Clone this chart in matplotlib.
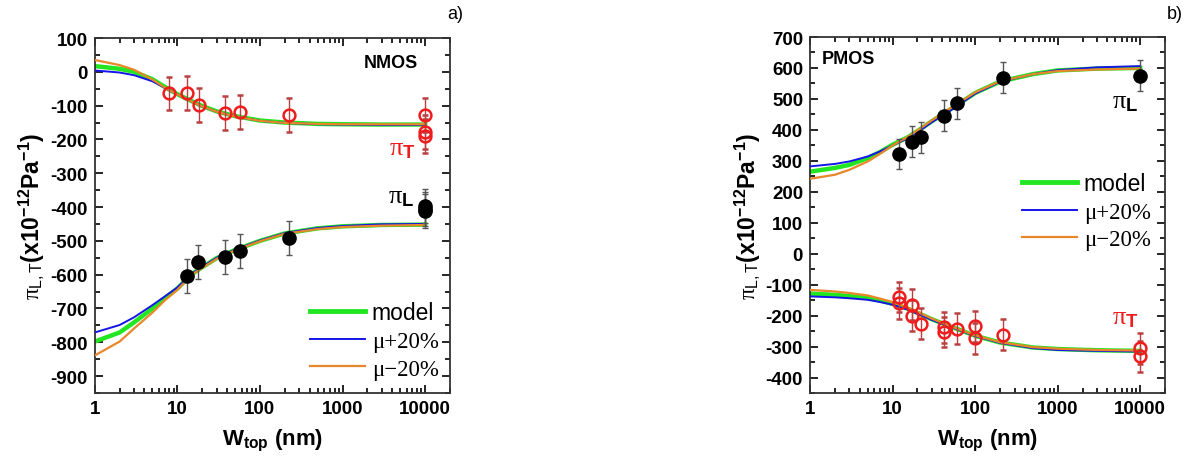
import matplotlib
matplotlib.use("Agg")
import matplotlib.pyplot as plt
from matplotlib.ticker import FixedLocator, FixedFormatter, MultipleLocator, LogLocator, NullFormatter

plt.rcParams['font.family'] = ['Liberation Sans', 'DejaVu Sans']
plt.rcParams['axes.unicode_minus'] = False
plt.rcParams['mathtext.fontset'] = 'custom'
plt.rcParams['mathtext.rm'] = 'Liberation Serif'
plt.rcParams['mathtext.it'] = 'Liberation Serif:italic'
plt.rcParams['mathtext.bf'] = 'Liberation Sans:bold'
plt.rcParams['mathtext.sf'] = 'Liberation Sans'

# ---------------- data ----------------
x_model = [1, 2, 3, 5, 7, 10, 15, 20, 30, 50, 100, 200, 500, 1000, 3000, 10000]

# NMOS
nmos_T_model = [17, 9, 0, -22, -44, -66, -87, -101, -117, -131, -144, -150, -154, -155, -156, -156]
nmos_T_plus = [4, -2, -10, -28, -47, -67, -88, -102, -118, -132, -145, -151, -155, -156, -157, -157]
nmos_T_minus = [35, 20, 6, -23, -46, -67, -88, -102, -118, -132, -145, -151, -154, -155, -155, -155]
nmos_L_model = [-798, -771, -741, -700, -670, -641, -598, -578, -551, -527, -500, -478, -463, -457, -453, -452]
nmos_L_plus = [-771, -749, -726, -690, -665, -638, -597, -577, -550, -526, -499, -477, -462, -456, -451, -450]
nmos_L_minus = [-839, -798, -759, -712, -677, -645, -600, -580, -553, -528, -501, -479, -465, -459, -455, -453]

nmos_T_x = [8, 13, 18.5, 38, 58, 222, 10000, 10000, 10000]
nmos_T_y = [-64, -62, -98, -122, -120, -127, -127, -177, -189]
nmos_L_x = [13, 18, 38, 58, 222, 10000, 10000, 10000]
nmos_L_y = [-604, -562, -547, -530, -491, -398, -405, -412]

# PMOS
pmos_L_model = [265, 277, 287, 309, 328, 352, 375, 396, 428, 466, 519, 556, 580, 592, 598, 600]
pmos_L_plus = [282, 290, 298, 314, 330, 350, 372, 392, 425, 462, 517, 555, 580, 593, 602, 606]
pmos_L_minus = [242, 255, 271, 298, 322, 350, 376, 398, 431, 470, 521, 557, 580, 590, 595, 598]
pmos_T_model = [-129, -133, -137, -143, -151, -162, -177, -191, -212, -235, -265, -287, -303, -308, -312, -314]
pmos_T_plus = [-138, -141, -144, -149, -156, -165, -180, -194, -214, -236, -266, -288, -305, -311, -314, -316]
pmos_T_minus = [-117, -122, -127, -135, -145, -156, -173, -188, -210, -234, -264, -286, -302, -307, -311, -313]

pmos_L_x = [12.1, 17.2, 22.3, 41.5, 61, 220, 10000]
pmos_L_y = [322, 362, 376, 446, 486, 569, 575]
pmos_T_x = [12.1, 12.1, 17.2, 17.2, 22.3, 41.5, 41.5, 61, 100, 100, 220, 10000, 10000]
pmos_T_y = [-140, -160, -165, -200, -226, -237, -253, -243, -234, -273, -262, -305, -332]

err = 50
xticks = [1, 10, 100, 1000, 10000]
xtick_labels = ['1', '10', '100', '1000', '10000']
legend_labels = ['model', '\u03bc+20%', '\u03bc\u221220%']

GREEN = '#22e622'
BLUE = '#1515e8'
ORANGE = '#e8862a'

fig = plt.figure(figsize=(11.99, 4.64), dpi=100)
axL = fig.add_axes([0.079, 0.1509, 0.2963, 0.765])
axR = fig.add_axes([0.6756, 0.1509, 0.2961, 0.7672])


def style_axes(ax, ylim, yticks):
    ax.set_xscale('log')
    ax.set_xlim(1, 2e4)
    ax.set_ylim(*ylim)
    ax.xaxis.set_major_locator(FixedLocator(xticks))
    ax.xaxis.set_major_formatter(FixedFormatter(xtick_labels))
    ax.xaxis.set_minor_locator(LogLocator(base=10, subs=range(2, 10), numticks=20))
    ax.xaxis.set_minor_formatter(NullFormatter())
    ax.set_yticks(yticks)
    ax.yaxis.set_minor_locator(MultipleLocator(50))
    ax.tick_params(which='both', direction='in', top=True, right=True, width=1.2)
    ax.tick_params(which='major', length=6, labelsize=13.5, pad=5)
    ax.tick_params(which='minor', length=3.5)
    for lab in ax.get_xticklabels() + ax.get_yticklabels():
        lab.set_fontweight('bold')
    for s in ax.spines.values():
        s.set_linewidth(1.3)
        s.set_color('#333333')
    ax.set_xlabel(r'$\mathbf{W}_{\mathbf{top}}$ (nm)', fontsize=16, fontweight='bold', labelpad=7)
    ax.set_ylabel(r'$\mathrm{\pi}_{\mathsf{L,T}}\mathbf{(x10^{-12}Pa^{-1})}$', fontsize=16.5, labelpad=2)


def model_lines(ax, ym, yp, yn):
    l1, = ax.plot(x_model, ym, color=GREEN, lw=3.2, zorder=2)
    l2, = ax.plot(x_model, yp, color=BLUE, lw=1.4, zorder=3)
    l3, = ax.plot(x_model, yn, color=ORANGE, lw=1.6, zorder=3)
    return [l1, l2, l3]


def open_pts(ax, x, y):
    ax.errorbar(x, y, yerr=err, fmt='o', mfc='none', mec='#ee1c1c', mew=1.8, ms=8.5,
                ecolor='#b84040', elinewidth=1, capsize=2.5, capthick=1, zorder=4)


def filled_pts(ax, x, y):
    ax.errorbar(x, y, yerr=err, fmt='o', mfc='black', mec='black', ms=9.5,
                ecolor='#555555', elinewidth=1, capsize=2.5, capthick=1, zorder=4)


def make_legend(ax, handles, anchor):
    leg = ax.legend(handles, legend_labels, loc='center left', bbox_to_anchor=anchor,
                    frameon=False, fontsize=16.5, handlelength=2.4, handletextpad=0.3,
                    labelspacing=0.3, borderpad=0, borderaxespad=0)
    texts = leg.get_texts()
    texts[0].set_fontfamily('Liberation Sans')
    texts[1].set_fontfamily('Liberation Serif')
    texts[2].set_fontfamily('Liberation Serif')
    leg.get_lines()[0].set_linewidth(3.5)
    return leg


# ---- NMOS ----
style_axes(axL, (-950, 100), list(range(-900, 101, 100)))
model_lines(axL, nmos_T_model, nmos_T_plus, nmos_T_minus)
hL = model_lines(axL, nmos_L_model, nmos_L_plus, nmos_L_minus)
open_pts(axL, nmos_T_x, nmos_T_y)
filled_pts(axL, nmos_L_x, nmos_L_y)
make_legend(axL, hL, (0.606, 0.149))
axL.text(0.834, 0.932, 'NMOS', transform=axL.transAxes, fontsize=13, fontweight='bold',
         ha='center', va='center')
axL.text(0.865, 0.69, r'$\mathrm{\pi}_{\mathbf{T}}$', transform=axL.transAxes, fontsize=19,
         color='#ee1c1c', ha='center', va='center')
axL.text(0.862, 0.555, r'$\mathrm{\pi}_{\mathbf{L}}$', transform=axL.transAxes, fontsize=19,
         color='black', ha='center', va='center')

# ---- PMOS ----
style_axes(axR, (-450, 700), list(range(-400, 701, 100)))
hR = model_lines(axR, pmos_L_model, pmos_L_plus, pmos_L_minus)
model_lines(axR, pmos_T_model, pmos_T_plus, pmos_T_minus)
filled_pts(axR, pmos_L_x, pmos_L_y)
open_pts(axR, pmos_T_x, pmos_T_y)
make_legend(axR, hR, (0.597, 0.511))
axR.text(0.107, 0.941, 'PMOS', transform=axR.transAxes, fontsize=13, fontweight='bold',
         ha='center', va='center')
axR.text(0.887, 0.82, r'$\mathrm{\pi}_{\mathbf{L}}$', transform=axR.transAxes, fontsize=19,
         color='black', ha='center', va='center')
axR.text(0.887, 0.213, r'$\mathrm{\pi}_{\mathbf{T}}$', transform=axR.transAxes, fontsize=19,
         color='#ee1c1c', ha='center', va='center')

fig.text(0.3795, 0.968, 'a)', fontsize=13, ha='center', va='center')
fig.text(0.98, 0.968, 'b)', fontsize=13, ha='center', va='center')

fig.savefig('out.png', dpi=100)
